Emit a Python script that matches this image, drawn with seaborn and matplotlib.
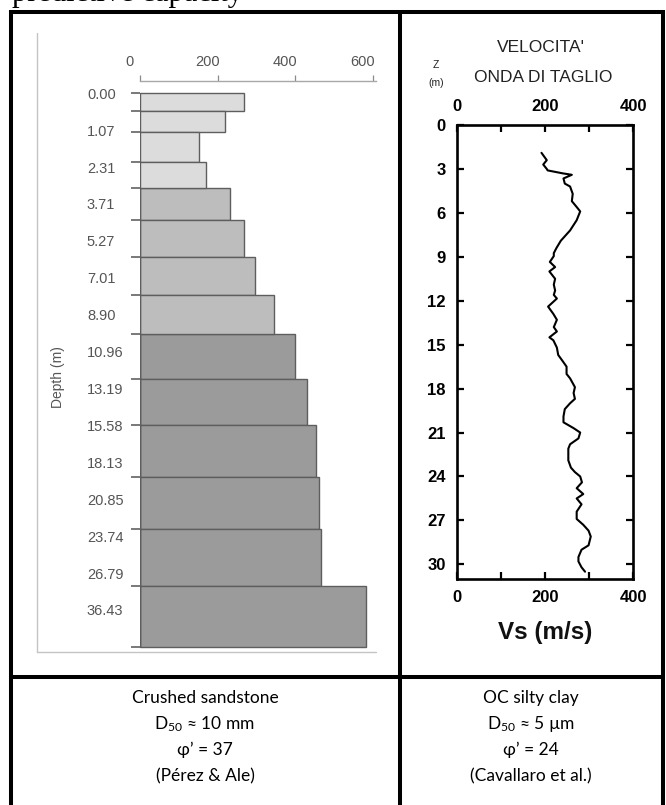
import numpy as np
import pandas as pd
import matplotlib
matplotlib.use("Agg")
import matplotlib.pyplot as plt
import matplotlib.transforms as mtransforms
from matplotlib.lines import Line2D
import seaborn as sns

# ---------------- data ----------------
depth_labels = ["0.00", "1.07", "2.31", "3.71", "5.27", "7.01", "8.90", "10.96",
                "13.19", "15.58", "18.13", "20.85", "23.74", "26.79", "36.43"]
layer_edges = [0.0, 0.47, 1.06, 1.85, 2.57, 3.43, 4.43, 5.47, 6.52, 7.74,
               9.00, 10.39, 11.81, 13.35, 15.0]
layer_values = [268, 218, 153, 169, 231, 268, 296, 345, 400, 429, 452, 460, 465, 582]
layer_group = ["light"] * 4 + ["medium"] * 4 + ["dark"] * 6
bar_ticks = [0, 200, 400, 600]

vs_depth = [1.9, 2.4, 2.7, 3.0, 3.1, 3.3, 3.4, 3.65, 4.0, 4.2,
            4.7, 5.2, 5.6, 5.9, 6.5, 7.2, 7.9, 8.4, 8.75, 8.95,
            9.35, 9.7, 10.0, 10.5, 10.9, 11.3, 11.6, 11.85, 12.4, 12.9,
            13.3, 13.8, 14.1, 14.5, 14.7, 15.2, 15.7, 16.2, 16.5, 17.0,
            17.3, 17.9, 18.3, 18.7, 19.0, 19.4, 19.9, 20.3, 20.7, 21.0,
            21.4, 21.8, 22.1, 22.9, 23.4, 23.7, 24.0, 24.4, 24.8, 25.2,
            25.5, 25.9, 26.4, 26.9, 27.3, 27.7, 28.1, 28.7, 29.0, 29.5,
            29.8, 30.2, 30.5]
vs_value = [192, 204, 196, 204, 206, 240, 261, 242, 245, 257,
            263, 261, 272, 280, 272, 257, 236, 226, 220, 220,
            211, 223, 210, 223, 220, 223, 220, 227, 207, 219,
            227, 220, 227, 210, 219, 227, 230, 242, 249, 249,
            257, 268, 265, 268, 257, 245, 242, 242, 265, 280,
            276, 257, 253, 253, 259, 268, 280, 284, 272, 287,
            272, 283, 272, 272, 287, 299, 304, 299, 283, 276,
            276, 283, 291]
vs_ticks = [0, 200, 400]
vs_minor_ticks = [100, 300]
z_ticks = [0, 3, 6, 9, 12, 15, 18, 21, 24, 27, 30]

left_caption = ["Crushed sandstone", r"D$_{50}$ ≈ 10 mm", "φ’ = 37", "(Pérez & Ale)"]
right_caption = ["OC silty clay", r"D$_{50}$ ≈ 5 µm", "φ’ = 24", "(Cavallaro et al.)"]

# ---------------- style ----------------
sns.set_style("white")
plt.rcParams["font.family"] = ["Liberation Sans", "DejaVu Sans"]
plt.rcParams["mathtext.fontset"] = "custom"
plt.rcParams["mathtext.rm"] = "Lato"
plt.rcParams["mathtext.it"] = "Lato:italic"

W, H = 666, 805
fig = plt.figure(figsize=(W / 100, H / 100), dpi=100)
fig.patch.set_facecolor("white")


def rect(l, t, r, b):
    return [l / W, 1 - b / H, (r - l) / W, (b - t) / H]


def fx(x):
    return x / W


def fy(y):
    return 1 - y / H


# ---------------- left panel: layered bar profile ----------------
ax1 = fig.add_axes(rect(140, 81, 376, 652))
centers = [(a + b) / 2 for a, b in zip(layer_edges[:-1], layer_edges[1:])]
df_bars = pd.DataFrame({"pos": centers, "value": layer_values, "group": layer_group})
sns.histplot(data=df_bars, y="pos", weights="value", bins=layer_edges,
             hue="group", hue_order=["light", "medium", "dark"],
             palette={"light": "#dcdcdc", "medium": "#bdbdbd", "dark": "#9b9b9b"},
             multiple="layer", alpha=1, edgecolor="#5e5e5e", linewidth=1.0,
             legend=False, ax=ax1)
ax1.set_xlim(0, 607.7)
ax1.set_ylim(15.14, -0.333)
ax1.set_xlabel("")
ax1.set_ylabel("")
for s in ["left", "right", "bottom"]:
    ax1.spines[s].set_visible(False)
ax1.spines["top"].set_color("#a8a8a8")
ax1.spines["top"].set_linewidth(1.0)
ax1.xaxis.tick_top()
ax1.set_xticks(bar_ticks, labels=[str(v) for v in bar_ticks])
ax1.tick_params(axis="x", which="major", direction="out", length=4.3, width=0.9,
                color="#8a8a8a", labelsize=10.5, labelcolor="#555555", pad=4)
ax1.yaxis.remove_overlapping_locs = False
ax1.set_yticks(layer_edges, labels=[])
ax1.set_yticks(list(range(len(depth_labels))), minor=True)
ax1.set_yticklabels(depth_labels, minor=True)
ax1.tick_params(axis="y", which="major", direction="out", length=6.5, width=1.1,
                color="#555555", left=True)
ax1.tick_params(axis="y", which="minor", length=0, pad=38.2, labelsize=10.5,
                labelcolor="#555555", left=True)
for lbl in ax1.get_yticklabels(minor=True):
    lbl.set_horizontalalignment("left")
shift = mtransforms.ScaledTranslation(-10 / 100, 0, fig.dpi_scale_trans)
for tk in ax1.xaxis.get_major_ticks():
    tk.label2.set_transform(tk.label2.get_transform() + shift)

fig.text(fx(58), fy(377), "Depth (m)", rotation=90, ha="center", va="center",
         fontsize=10, color="#555555")
# light frame of the embedded figure
fig.add_artist(Line2D([fx(37), fx(37)], [fy(33), fy(652)], transform=fig.transFigure,
                      color="#c4c4c4", lw=1.0))
fig.add_artist(Line2D([fx(37), fx(376)], [fy(652), fy(652)], transform=fig.transFigure,
                      color="#c4c4c4", lw=1.0))

# ---------------- right panel: Vs profile ----------------
ax2 = fig.add_axes(rect(457, 125, 633, 579))
sns.lineplot(x=vs_value, y=vs_depth, sort=False, estimator=None, color="black",
             lw=1.5, ax=ax2)
ax2.set_xlim(0, 400)
ax2.set_ylim(31.0, 0)
ax2.set_xticks(vs_ticks, labels=[str(v) for v in vs_ticks])
ax2.set_xticks(vs_minor_ticks, minor=True)
ax2.set_yticks(z_ticks, labels=[str(v) for v in z_ticks])
ax2.tick_params(which="both", direction="in", top=True, right=True, bottom=True, left=True,
                labeltop=True, labelbottom=True, length=5, width=1.6, labelsize=12,
                pad=8.0, colors="black")
for lbl in ax2.get_xticklabels() + ax2.get_yticklabels():
    lbl.set_fontweight("bold")
for tk in ax2.xaxis.get_major_ticks():
    tk.label2.set_fontweight("bold")
for s in ax2.spines.values():
    s.set_linewidth(1.9)
    s.set_color("black")
ax2.set_xlabel("")
ax2.set_ylabel("")

fig.text(fx(541), fy(48), "VELOCITA'", ha="center", va="center", fontsize=12.5,
         color="#222222")
fig.text(fx(543), fy(77), "ONDA DI TAGLIO", ha="center", va="center", fontsize=12.5,
         color="#222222")
fig.text(fx(436), fy(65), "Z", ha="center", va="center", fontsize=7.5, color="#222222")
fig.text(fx(436), fy(83), "(m)", ha="center", va="center", fontsize=7.5, color="#222222")
fig.text(fx(545), fy(632), "Vs (m/s)", ha="center", va="center", fontsize=17.5,
         fontweight="bold", color="#111111")

# ---------------- table frame ----------------
lw_tab = 2.9
for (x0, y0, x1, y1) in [(11, 12, 663, 12), (11, 10, 11, 805), (400, 10, 400, 805),
                         (663, 10, 663, 805), (11, 677, 663, 677)]:
    fig.add_artist(Line2D([fx(x0), fx(x1)], [fy(y0), fy(y1)], transform=fig.transFigure,
                          color="black", lw=lw_tab, solid_capstyle="butt"))

# cut-off heading line above the table (only its lowest sliver is visible)
fig.text(fx(12), fy(1), "predictive capacity", ha="left", va="baseline",
         fontsize=22, family=["Liberation Serif", "DejaVu Serif"], color="black")

# ---------------- captions ----------------
row_y = [698, 724, 750, 776]
for txt, y in zip(left_caption, row_y):
    fig.text(fx(205), fy(y), txt, ha="center", va="center", fontsize=12.5,
             family=["Lato", "DejaVu Sans"], color="black")
for txt, y in zip(right_caption, row_y):
    fig.text(fx(531), fy(y), txt, ha="center", va="center", fontsize=12.5,
             family=["Lato", "DejaVu Sans"], color="black")

fig.savefig("out.png", dpi=100)
